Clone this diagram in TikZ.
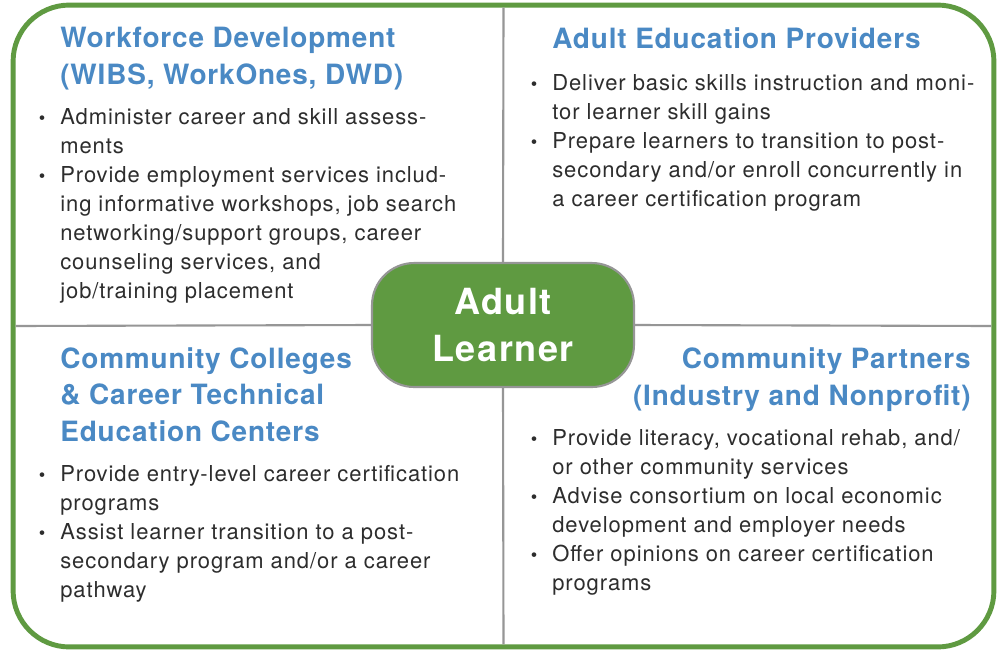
\documentclass[tikz,border=0pt]{standalone}
\usepackage{fontspec}
\setmainfont{TeX Gyre Heros}[LetterSpace=4.2]
\newfontfamily\headfont{TeX Gyre Heros}[LetterSpace=3]
\usepackage{tikz}

\definecolor{learnergreen}{RGB}{95,154,65}
\definecolor{titleblue}{RGB}{74,137,196}
\definecolor{rulegray}{RGB}{150,150,150}
\definecolor{bodygray}{RGB}{45,45,45}

\newcommand{\itemdot}{\llap{\fontsize{10.5}{10.5}\selectfont\textbullet\hspace{8.5pt}}}

\tikzset{
  heading/.style={font=\headfont\bfseries\fontsize{15.9}{20.5}\selectfont, text=titleblue, inner sep=0pt, align=left},
  itemtext/.style={font=\fontsize{12.5}{16.5}\selectfont, text=bodygray, inner sep=0pt, align=left},
  divider/.style={draw=rulegray, line width=1.2pt}
}

\begin{document}
\begin{tikzpicture}[x=0.02cm, y=-0.02cm]
  \useasboundingbox[fill=white] (0,0) rectangle (1000,650);

  \node[draw=learnergreen, line width=2.8pt, outer sep=0pt, rounded corners=32pt,
        minimum width=19.62cm, minimum height=12.84cm] (frame) at (503.5,326) {};
  \node[draw=rulegray, fill=learnergreen, line width=1.2pt, rounded corners=24pt,
        minimum width=5.24cm, minimum height=2.48cm, text=white, align=center,
        font=\bfseries\fontsize{20.5}{26.7}\selectfont] (learner) at (503,325) {Adult\\Learner};

  \draw[divider, shorten <=1.4pt] (frame.north) -- (learner.north);
  \draw[divider, shorten <=1.4pt] (frame.south) -- (learner.south);
  \draw[divider, shorten <=1.4pt] (frame.west) -- (learner.west);
  \draw[divider, shorten <=1.4pt] (frame.east) -- (learner.east);

  % top left (nodes placed by the baseline of their last line)
  \node[heading, anchor=base west] (wfhead) at (60,84) {Workforce Development\\(WIBS, WorkOnes, DWD)};
  \node[itemtext, anchor=base west] (wfitems) at (60,298) {\itemdot Administer career and skill assess-\\ments\\
    \itemdot Provide employment services includ-\\ing informative workshops, job search\\
    networking/support groups, career\\counseling services, and\\job/training placement};

  % top right
  \node[heading, anchor=base west] (aehead) at (552,48) {Adult Education Providers};
  \node[itemtext, anchor=base west] (aeitems) at (552,206) {\itemdot Deliver basic skills instruction and moni-\\tor learner skill gains\\
    \itemdot Prepare learners to transition to post-\\secondary and/or enroll concurrently in\\
    a career certification program};

  % bottom left
  \node[heading, anchor=base west] (cchead) at (60,441) {Community Colleges\\\& Career Technical\\Education Centers};
  \node[itemtext, anchor=base west] (ccitems) at (60,597) {\itemdot Provide entry-level career certification\\programs\\
    \itemdot Assist learner transition to a post-\\secondary program and/or a career\\pathway};

  % bottom right
  \node[heading, anchor=base east, align=right] (cphead) at (971,405) {Community Partners\\(Industry and Nonprofit)};
  \node[itemtext, anchor=base west] (cpitems) at (552,590) {\itemdot Provide literacy, vocational rehab, and/\\or other community services\\
    \itemdot Advise consortium on local economic\\development and employer needs\\
    \itemdot Offer opinions on career certification\\programs};
\end{tikzpicture}
\end{document}
